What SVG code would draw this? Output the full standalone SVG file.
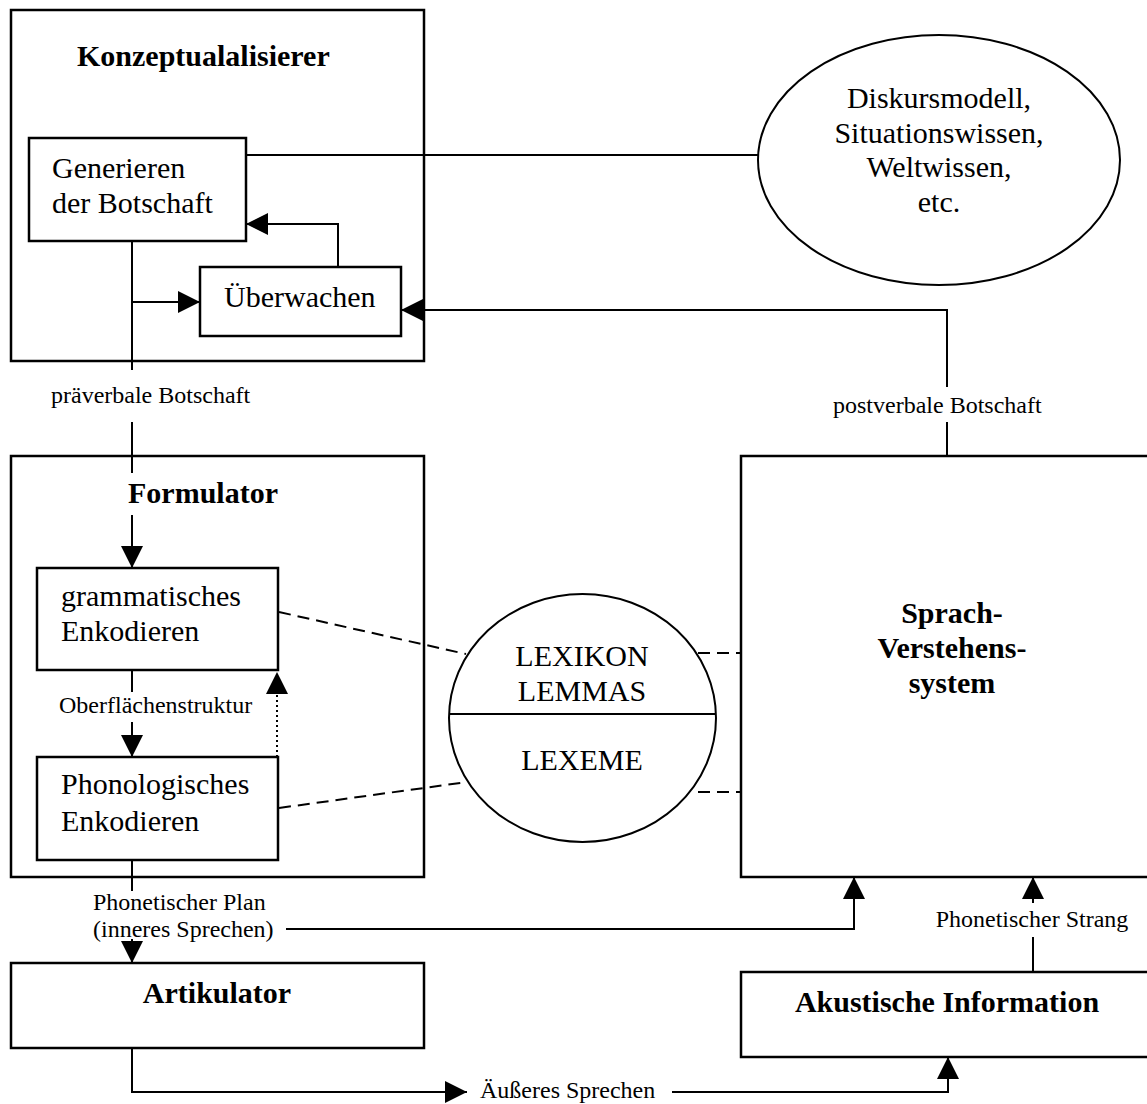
<svg xmlns="http://www.w3.org/2000/svg" width="1147" height="1104" viewBox="0 0 1147 1104">
  <style>
    .box { fill: none; stroke: #000; stroke-width: 2.5; }
    .oval { fill: none; stroke: #000; stroke-width: 2; }
    .ln { fill: none; stroke: #000; stroke-width: 2; }
    .dash { fill: none; stroke: #000; stroke-width: 2; stroke-dasharray: 12 7; }
    .dot { fill: none; stroke: #000; stroke-width: 2; stroke-dasharray: 2 3; }
    text { font-family: "Liberation Serif", "Times New Roman", serif; fill: #000; }
    .t { font-size: 30px; }
    .b { font-size: 30px; font-weight: bold; }
    .s { font-size: 24px; }
    .mid { text-anchor: middle; }
  </style>
  <defs>
    <marker id="ah" viewBox="0 0 22 22" markerWidth="22" markerHeight="22" refX="22" refY="11" orient="auto" markerUnits="userSpaceOnUse">
      <path d="M0,0 L22,11 L0,22 z" fill="#000" stroke="none"/>
    </marker>
  </defs>
  <rect width="1147" height="1104" fill="#fff"/>

  <!-- Konzeptualisierer -->
  <g id="konzeptualisierer">
    <rect class="box" x="11" y="10" width="413" height="351"/>
    <text class="b" x="77" y="66">Konzeptualalisierer</text>
  </g>
  <g id="generieren">
    <rect class="box" x="29" y="138" width="217" height="103"/>
    <text class="t" x="52" y="178">Generieren</text>
    <text class="t" x="52" y="213">der Botschaft</text>
  </g>
  <g id="ueberwachen">
    <rect class="box" x="200" y="267" width="201" height="69"/>
    <text class="t" x="224" y="307">Überwachen</text>
  </g>
  <g id="wissen">
    <ellipse class="oval" cx="939" cy="160" rx="181" ry="125"/>
    <text class="t mid" x="939" y="108">Diskursmodell,</text>
    <text class="t mid" x="939" y="143">Situationswissen,</text>
    <text class="t mid" x="939" y="177">Weltwissen,</text>
    <text class="t mid" x="939" y="212">etc.</text>
  </g>

  <!-- Formulator -->
  <g id="formulator">
    <rect class="box" x="11" y="456" width="413" height="421"/>
    <text class="b" x="128" y="503">Formulator</text>
  </g>
  <g id="grammatisch">
    <rect class="box" x="37" y="568" width="241" height="102"/>
    <text class="t" x="61" y="606">grammatisches</text>
    <text class="t" x="61" y="641">Enkodieren</text>
  </g>
  <g id="phonologisch">
    <rect class="box" x="37" y="757" width="241" height="103"/>
    <text class="t" x="61" y="794">Phonologisches</text>
    <text class="t" x="61" y="831">Enkodieren</text>
  </g>
  <g id="lexikon">
    <ellipse class="oval" cx="582.5" cy="718" rx="133.5" ry="124"/>
    <line class="ln" x1="449.2" y1="714" x2="715.8" y2="714"/>
    <text class="t mid" x="582" y="666">LEXIKON</text>
    <text class="t mid" x="582" y="701">LEMMAS</text>
    <text class="t mid" x="582" y="770">LEXEME</text>
  </g>
  <g id="verstehen">
    <rect class="box" x="741" y="456" width="410" height="421"/>
    <text class="b mid" x="952" y="623">Sprach-</text>
    <text class="b mid" x="952" y="658">Verstehens-</text>
    <text class="b mid" x="952" y="693">system</text>
  </g>

  <!-- Artikulator / Akustik -->
  <g id="artikulator">
    <rect class="box" x="11" y="963" width="413" height="85"/>
    <text class="b mid" x="217" y="1003">Artikulator</text>
  </g>
  <g id="akustik">
    <rect class="box" x="741" y="972" width="410" height="85"/>
    <text class="b mid" x="947" y="1012">Akustische Information</text>
  </g>

  <!-- Connectors and their labels -->
  <g id="connectors">
    <line class="ln" x1="246" y1="155" x2="758" y2="155"/>
    <path class="ln" d="M338,267 V224 H246" marker-end="url(#ah)"/>
    <path class="ln" d="M132,241 V370"/>
    <path class="ln" d="M132,302 H200" marker-end="url(#ah)"/>
    <text class="s" x="51" y="403">präverbale Botschaft</text>
    <path class="ln" d="M132,422 V473"/>
    <path class="ln" d="M132,515 V568" marker-end="url(#ah)"/>

    <path class="ln" d="M947,456 V422 M947,387 V310 H401" marker-end="url(#ah)"/>
    <text class="s" x="833" y="413">postverbale Botschaft</text>

    <path class="ln" d="M132,670 V692"/>
    <text class="s" x="59" y="713">Oberflächenstruktur</text>
    <path class="ln" d="M132,722 V757" marker-end="url(#ah)"/>
    <path class="dot" d="M277,757 V672" marker-end="url(#ah)"/>

    <line class="dash" x1="279" y1="612" x2="466" y2="654"/>
    <line class="dash" x1="279" y1="808" x2="467" y2="782"/>
    <line class="dash" x1="698" y1="653" x2="741" y2="653"/>
    <line class="dash" x1="698" y1="792" x2="741" y2="792"/>

    <path class="ln" d="M132,860 V891"/>
    <text class="s" x="93" y="910">Phonetischer Plan</text>
    <text class="s" x="93" y="937">(inneres Sprechen)</text>
    <path class="ln" d="M132,939 V963" marker-end="url(#ah)"/>
    <path class="ln" d="M286,929 H854 V877" marker-end="url(#ah)"/>

    <path class="ln" d="M132,1048 V1092 H467" marker-end="url(#ah)"/>
    <text class="s" x="480" y="1098">Äußeres Sprechen</text>
    <path class="ln" d="M672,1092 H948 V1057" marker-end="url(#ah)"/>

    <path class="ln" d="M1033,972 V937"/>
    <text class="s mid" x="1032" y="927">Phonetischer Strang</text>
    <path class="ln" d="M1033,903 V877" marker-end="url(#ah)"/>
  </g>
</svg>
